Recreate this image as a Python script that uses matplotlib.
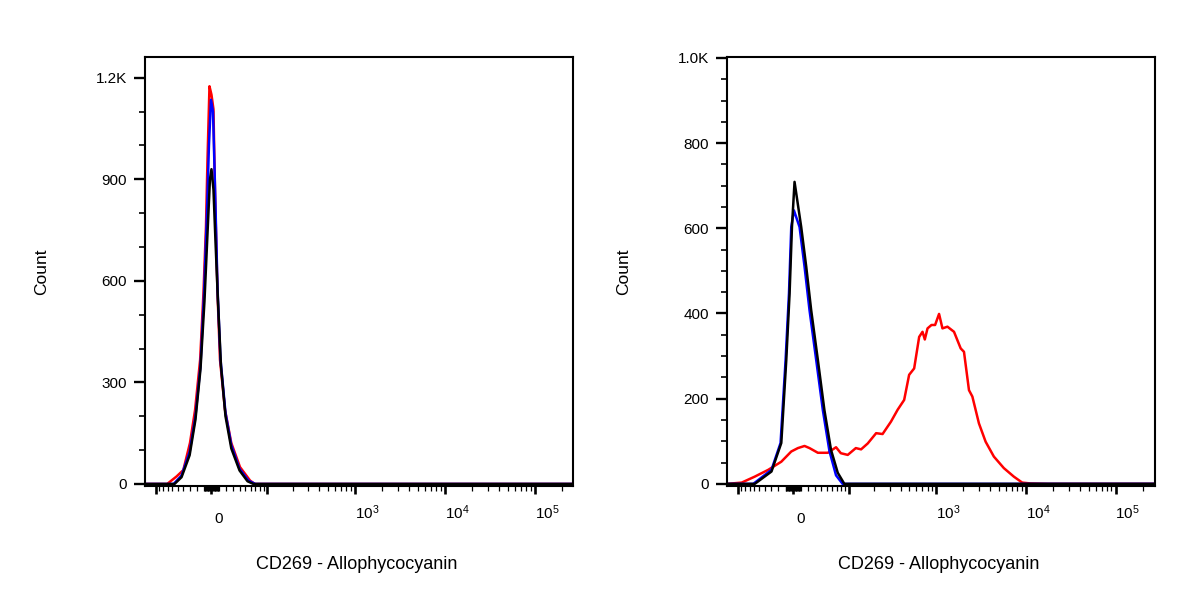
import numpy as np
import matplotlib
matplotlib.use("Agg")
import matplotlib.pyplot as plt
from matplotlib.ticker import FixedLocator
from matplotlib.transforms import ScaledTranslation

plt.rcParams['font.family'] = ['Liberation Sans', 'DejaVu Sans']

# left panel: CD269 - APC, three overlapping negative peaks
left_red_x = [-135, -71, -52, -40, -29.5, -22, -15, -10.5, -7.2, -5.2, -2.6, 0, 2.6, 4.6, 7.9, 11.2, 18, 27, 40.6, 59, 69, 265000]
left_red_y = [0, 0, 22, 41, 121, 219, 367, 565, 760, 958, 1175, 1150, 1107, 860, 565, 367, 219, 121, 50, 10, 0, 0]
left_blue_x = [-135, -57.5, -43, -30, -21.5, -14.5, -9.8, -5.9, -3.3, -0.65, 2.0, 4.6, 7.9, 11.8, 18.7, 27, 39.8, 55.7, 70, 265000]
left_blue_y = [0, 0, 25, 95, 200, 350, 560, 800, 1000, 1135, 1100, 880, 580, 370, 210, 115, 45, 10, 0, 0]
left_black_x = [-135, -55.7, -43, -30, -21.5, -14.5, -9.2, -5.2, -2.0, 0, 2.6, 5.2, 8.5, 12.5, 18.7, 27, 39.8, 54, 66, 265000]
left_black_y = [0, 0, 20, 85, 190, 340, 540, 740, 900, 930, 870, 720, 540, 350, 200, 105, 40, 8, 0, 0]

# right panel: red sample is positive around 10^3
right_red_x = [-135, -89, -59, -35, -15.9, -2.6, 6.1, 15, 21.9, 34.4, 51.5, 68, 79, 97, 122, 141,
               169, 211, 250, 311, 370, 438, 498, 567, 645, 703, 746, 800, 886, 972, 1076, 1174,
               1335, 1580, 1876, 2041, 2320, 2531, 2996, 3557, 4397, 5680, 7338, 9098, 11250, 17800, 275000]
right_red_y = [0, 3, 17, 33, 52, 76, 84, 89, 84, 73, 73, 86, 72, 68, 84, 81,
               95, 119, 117, 146, 174, 197, 256, 271, 345, 357, 339, 365, 373, 373, 399, 365,
               369, 357, 318, 310, 220, 205, 142, 99, 64, 37, 17, 3, 1, 0, 0]
right_blue_x = [-135, -62, -30, -16.9, -10.1, -5.6, -2.6, 0.9, 8.3, 15, 21.9, 31.8, 42.6, 54.5, 68, 83.4, 275000]
right_blue_y = [0, 0, 33, 96, 290, 447, 603, 642, 603, 510, 408, 291, 173, 77, 20, 0, 0]
right_black_x = [-135, -59, -30, -15.9, -9.2, -4.8, -1.7, 1.7, 10.5, 17.3, 24.3, 34.4, 45.3, 57.5, 71.8, 87.8, 275000]
right_black_y = [0, 0, 29, 96, 290, 447, 603, 709, 603, 510, 408, 291, 173, 80, 26, 0, 0]

x_major = [-100, 0, 100, 1e3, 1e4, 1e5]
x_labels = ['', '0', '', r'$\mathregular{10^3}$', r'$\mathregular{10^4}$', r'$\mathregular{10^5}$']
x_minor = ([-m * 10 for m in range(1, 10)] + [-m for m in range(1, 10)] + [m for m in range(1, 10)]
           + [m * 10 for m in range(1, 10)] + [m * 100 for m in range(2, 10)]
           + [m * 1000 for m in range(2, 10)] + [m * 10000 for m in range(2, 10)] + [2e5])

left_yticks = [0, 300, 600, 900, 1200]
left_ylabels = ['0', '300', '600', '900', '1.2K']
right_yticks = [0, 200, 400, 600, 800, 1000]
right_ylabels = ['0', '200', '400', '600', '800', '1.0K']

W = 51.0  # biexponential width


def fwd(x):
    return np.arcsinh(np.asarray(x, dtype=float) / W) / np.log(10)


def inv(y):
    return W * np.sinh(np.asarray(y, dtype=float) * np.log(10))


fig = plt.figure(figsize=(12, 6), dpi=100)
ax1 = fig.add_axes([145 / 1200, 0.19, 428 / 1200, 0.7142])
ax2 = fig.add_axes([727 / 1200, 0.19, 428 / 1200, 0.7142])


def style(ax, xmax, ylim, yticks, ylabels, ystep):
    ax.set_xscale('function', functions=(fwd, inv))
    ax.set_xlim(-135, xmax)
    ax.set_ylim(*ylim)
    ax.xaxis.set_major_locator(FixedLocator(x_major))
    ax.xaxis.set_minor_locator(FixedLocator(x_minor))
    ax.set_xticklabels(x_labels)
    ax.set_yticks(yticks)
    ax.set_yticklabels(ylabels)
    ax.yaxis.set_minor_locator(FixedLocator(np.arange(0, yticks[-1] + 1, ystep)))
    for s in ax.spines.values():
        s.set_linewidth(1.5)
    ax.tick_params(axis='x', which='major', direction='out', length=6, width=1.9, pad=6.5, labelsize=11)
    ax.tick_params(axis='x', which='minor', direction='out', length=3.6, width=0.9)
    ax.tick_params(axis='y', which='major', direction='out', length=8, width=1.7, pad=5, labelsize=11)
    ax.tick_params(axis='y', which='minor', direction='out', length=4, width=1.2)
    # shift the x labels the way the cytometry software places them
    for tick, lab in zip(ax.xaxis.get_major_ticks(), x_labels):
        if lab == '0':
            off = ScaledTranslation(7.5 / 100, -9 / 100, fig.dpi_scale_trans)
        else:
            off = ScaledTranslation(12 / 100, 0, fig.dpi_scale_trans)
        tick.label1.set_transform(tick.label1.get_transform() + off)
    ax.set_ylabel('Count', fontsize=12.5)
    ax.yaxis.set_label_coords(-0.241, 0.5)
    ax.set_xlabel('CD269 - Allophycocyanin', fontsize=13)
    ax.xaxis.set_label_coords(0.495, -0.184)
    ax.xaxis.label.set_va('center')
    ax.yaxis.label.set_va('center')


ax1.plot(left_red_x, left_red_y, color='#ff0000', lw=1.8)
ax1.plot(left_blue_x, left_blue_y, color='#0000ff', lw=1.8)
ax1.plot(left_black_x, left_black_y, color='black', lw=1.8)
style(ax1, 265000, (-6, 1260), left_yticks, left_ylabels, 100)

ax2.plot(right_red_x, right_red_y, color='#ff0000', lw=1.8)
ax2.plot(right_blue_x, right_blue_y, color='#0000ff', lw=1.8)
ax2.plot(right_black_x, right_black_y, color='black', lw=1.8)
style(ax2, 275000, (-5, 1001), right_yticks, right_ylabels, 50)

fig.savefig('out.png', dpi=100)
